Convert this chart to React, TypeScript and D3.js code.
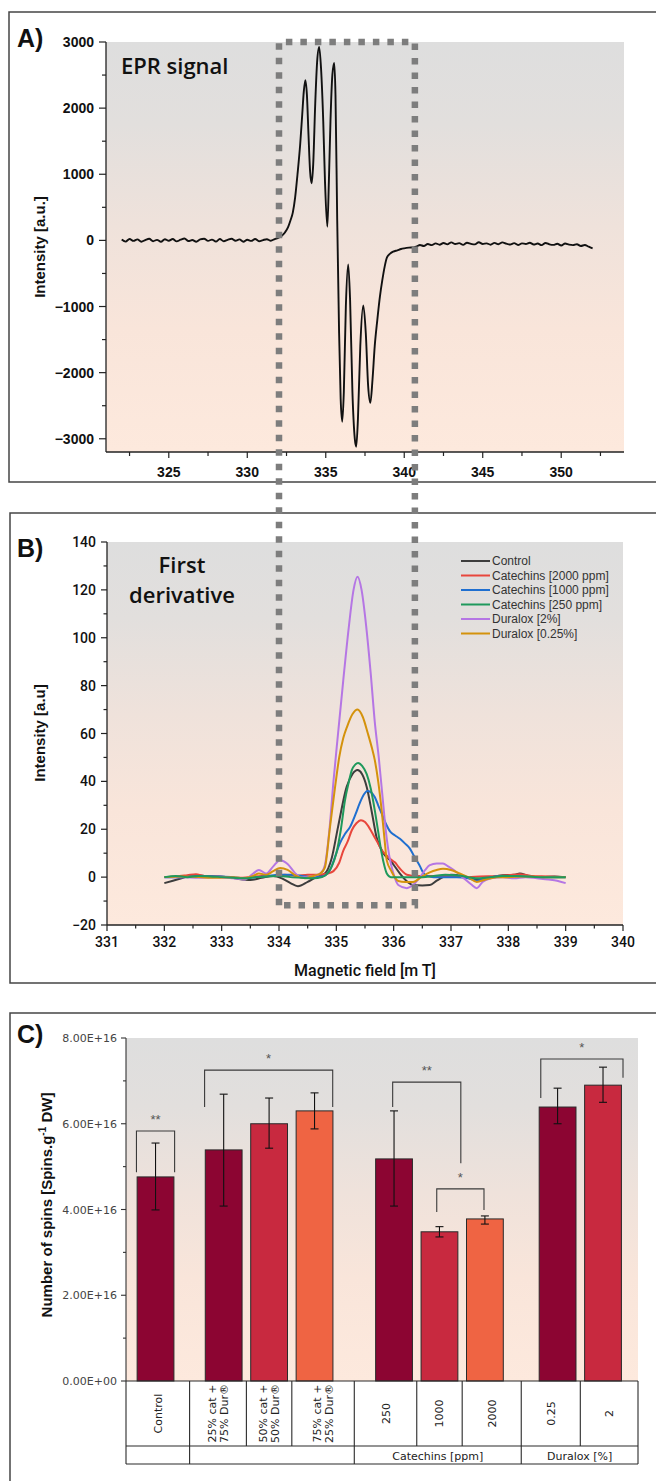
import React from 'react';
import * as d3 from 'd3';

const W = 656;
const H = 1481;

// ---------------- Panel A : EPR signal ----------------
const epsLeftBaseline: [number, number][] = [
  [322.0, 12], [322.25, -18], [322.5, 22], [322.75, -8], [323.0, 15], [323.25, -20], [323.5, 5], [323.75, 25],
  [324.0, -12], [324.25, 8], [324.5, -22], [324.75, 18], [325.0, -5], [325.25, 20], [325.5, -15], [325.75, 10],
  [326.0, 28], [326.25, -10], [326.5, 5], [326.75, -20], [327.0, 15], [327.25, 25], [327.5, -8], [327.75, 12],
  [328.0, -18], [328.25, 20], [328.5, -12], [328.75, 8], [329.0, 25], [329.25, -5], [329.5, 15], [329.75, -20],
  [330.0, 10], [330.25, -8], [330.5, 22], [330.75, -12], [331.0, 5], [331.25, 18], [331.5, -5], [331.75, 20],
  [332.0, 40],
];
const epsSignal: [number, number][] = [
  [332.2, 70], [332.4, 120], [332.6, 200], [332.75, 300], [332.9, 420], [333.05, 650], [333.2, 1000],
  [333.37, 1450], [333.5, 1900], [333.6, 2250], [333.7, 2424], [333.8, 2200], [333.9, 1600], [334.0, 1050],
  [334.1, 864], [334.2, 1150], [334.33, 2070], [334.45, 2700], [334.58, 2924], [334.7, 2600], [334.84, 1800],
  [334.95, 900], [335.1, 207], [335.2, 900], [335.3, 1800], [335.42, 2500], [335.54, 2682], [335.62, 2200],
  [335.73, 300], [335.85, -1400], [335.95, -2400], [336.05, -2742], [336.15, -2300], [336.28, -1000],
  [336.43, -364], [336.55, -900], [336.7, -2300], [336.85, -3000], [336.94, -3121], [337.05, -2700],
  [337.2, -1600], [337.39, -985], [337.55, -1400], [337.7, -2200], [337.84, -2455], [337.98, -2100],
  [338.12, -1600], [338.28, -1212], [338.45, -850], [338.6, -606], [338.75, -400], [338.9, -258],
  [339.1, -200], [339.3, -170], [339.56, -150], [339.8, -130], [340.0, -120], [340.3, -110], [340.6, -106],
];
const epsRightBaseline: [number, number][] = [
  [340.8, -90], [341.0, -70], [341.25, -85], [341.5, -55], [341.75, -72], [342.0, -45], [342.25, -65],
  [342.5, -40], [342.75, -60], [343.0, -30], [343.25, -55], [343.5, -42], [343.75, -68], [344.0, -35],
  [344.25, -52], [344.5, -60], [344.75, -28], [345.0, -55], [345.25, -45], [345.5, -65], [345.75, -38],
  [346.0, -58], [346.25, -30], [346.5, -50], [346.75, -62], [347.0, -42], [347.25, -70], [347.5, -45],
  [347.75, -55], [348.0, -35], [348.25, -62], [348.5, -48], [348.75, -72], [349.0, -40], [349.25, -60],
  [349.5, -68], [349.75, -50], [350.0, -78], [350.25, -48], [350.5, -65], [350.75, -72], [351.0, -58],
  [351.25, -85], [351.5, -70], [351.75, -95], [352.0, -120],
];
const aYTicks = [3000, 2000, 1000, 0, -1000, -2000, -3000];
const aXTicks = [325, 330, 335, 340, 345, 350];

// ---------------- Panel B : first derivative ----------------
const seriesNames = [
  'Control', 'Catechins [2000 ppm]', 'Catechins [1000 ppm]', 'Catechins [250 ppm]', 'Duralox [2%]', 'Duralox [0.25%]',
];
const seriesColors = ['#3d3d3d', '#e8463c', '#1f6fd0', '#1f995c', '#b576e4', '#d4920c'];

const controlCurve: [number, number][] = [
  [332.0, -2.5], [332.15, -1.5], [332.3, -0.5], [332.5, 0.8], [332.7, 0.5], [332.9, 0.3], [333.1, 0],
  [333.3, -0.8], [333.5, -1.2], [333.7, -0.3], [333.9, 0.5], [334.05, -0.5], [334.2, -2.5], [334.33, -3.8],
  [334.5, -2], [334.65, 0], [334.8, 1.5], [334.92, 8], [335.03, 21], [335.18, 37.7], [335.28, 43],
  [335.37, 44.7], [335.45, 43], [335.53, 37.7], [335.62, 27], [335.7, 16.8], [335.82, 10], [335.94, 7],
  [336.11, 1.5], [336.22, -1.5], [336.34, -3.3], [336.5, -3.5], [336.63, -3.3], [336.75, -1.5], [336.86, 0],
  [337.0, 1], [337.2, 0.5], [337.35, -0.5], [337.5, -1], [337.7, 0], [337.9, 0.8], [338.1, 1], [338.2, 1.5],
  [338.35, 0.5], [338.6, 0], [338.8, 0.3], [339.0, 0],
];
const cat2000Curve: [number, number][] = [
  [332.0, 0], [332.2, 0.3], [332.4, 0.8], [332.55, 1.2], [332.7, 0.5], [332.9, 0.3], [333.1, 0], [333.3, -0.3],
  [333.5, 0], [333.7, 0.5], [333.9, 0.5], [334.1, 1], [334.3, 0.5], [334.5, 1], [334.7, 1], [334.85, 1.5],
  [334.95, 2.5], [335.05, 6], [335.12, 11], [335.2, 15], [335.27, 19.6], [335.35, 22.5], [335.43, 23.8],
  [335.5, 23], [335.59, 20], [335.66, 17], [335.73, 14], [335.8, 11], [335.88, 9], [335.97, 7], [336.03, 6],
  [336.08, 4.4], [336.15, 2.5], [336.23, 1], [336.4, 0.5], [336.6, 0.5], [336.8, 0.5], [337.0, 0.5],
  [337.3, 0], [337.5, 0.3], [337.8, 0.5], [338.0, 0.8], [338.2, 1.2], [338.4, 0.5], [338.7, 0.3], [339.0, 0],
];
const cat1000Curve: [number, number][] = [
  [332.0, 0], [332.3, 0], [332.6, 0.5], [332.9, 0.3], [333.2, 0], [333.4, -0.5], [333.6, 0], [333.8, 0.5],
  [334.0, 1], [334.2, 1], [334.4, 0.5], [334.6, 0], [334.75, 0.3], [334.89, 3], [334.97, 8], [335.06, 14],
  [335.15, 18], [335.24, 21], [335.33, 26], [335.41, 31], [335.48, 34.5], [335.54, 36], [335.6, 35.5],
  [335.67, 33.5], [335.73, 30], [335.79, 26.6], [335.86, 22.5], [335.94, 19], [336.02, 17.5], [336.11, 16],
  [336.2, 14], [336.28, 12], [336.34, 9.5], [336.4, 7], [336.46, 4.5], [336.51, 2], [336.58, 0.5],
  [336.7, 0], [336.9, 0], [337.1, 0], [337.3, -0.5], [337.45, -1.5], [337.55, -1], [337.7, 0], [337.9, 0.5],
  [338.2, 0.5], [338.5, 0], [338.8, 0], [339.0, 0],
];
const cat250Curve: [number, number][] = [
  [332.0, 0], [332.2, 0.5], [332.4, 0], [332.6, 0.5], [332.8, 0.3], [333.0, 0], [333.2, -0.3], [333.4, -0.5],
  [333.6, 0], [333.8, 0.3], [334.0, 0.5], [334.2, 0], [334.4, -0.3], [334.6, -0.5], [334.75, 0], [334.86, 2],
  [334.93, 5], [335.0, 10], [335.08, 20], [335.15, 32], [335.22, 40], [335.27, 44.7], [335.33, 47],
  [335.38, 47.7], [335.45, 46.5], [335.53, 43], [335.6, 37], [335.67, 28], [335.73, 19], [335.79, 10],
  [335.84, 4.5], [335.88, 1.5], [335.95, 0], [336.1, 0], [336.3, 0], [336.5, 0], [336.7, 0.5], [336.9, 1],
  [337.1, 0.8], [337.3, 0], [337.5, -0.5], [337.7, 0], [337.9, 0.5], [338.1, 0.5], [338.3, 0.3], [338.6, 0],
  [339.0, 0],
];
const dur2Curve: [number, number][] = [
  [332.0, 0], [332.3, 0], [332.6, -0.3], [332.9, 0], [333.2, -0.5], [333.4, -1], [333.55, 1.5], [333.65, 3],
  [333.78, 1.5], [333.9, 4.5], [334.02, 7.1], [334.15, 5.5], [334.27, 2], [334.37, 0], [334.5, 0],
  [334.62, 0.5], [334.74, 2], [334.8, 5], [334.88, 20], [334.95, 40], [335.03, 60], [335.12, 82],
  [335.22, 105], [335.3, 120], [335.37, 125.5], [335.44, 120], [335.52, 105], [335.6, 85], [335.67, 65],
  [335.74, 50], [335.8, 35], [335.87, 18], [335.93, 8], [335.99, 2], [336.08, -3.3], [336.23, -4.6],
  [336.35, -3], [336.46, 0], [336.55, 3], [336.63, 5], [336.75, 5.7], [336.86, 5.7], [336.95, 4.5],
  [337.05, 3], [337.2, 0], [337.35, -3], [337.45, -4.6], [337.55, -2], [337.7, -0.5], [337.9, 0],
  [338.1, -0.5], [338.3, 0], [338.5, -0.5], [338.7, -1], [338.85, -1.5], [339.0, -2.5],
];
const dur025Curve: [number, number][] = [
  [332.0, 0], [332.3, 0.3], [332.6, 0], [332.9, -0.3], [333.2, 0], [333.4, -0.5], [333.55, 0.5], [333.65, 1.5],
  [333.78, 1], [333.9, 2.5], [334.02, 3.8], [334.15, 3], [334.3, 0.5], [334.45, -0.5], [334.6, 0.5],
  [334.72, 1.5], [334.8, 4], [334.89, 21], [334.98, 38], [335.05, 50], [335.12, 58], [335.19, 63],
  [335.28, 68], [335.37, 70], [335.46, 67], [335.55, 60], [335.62, 54], [335.67, 49], [335.73, 40],
  [335.79, 28], [335.84, 16], [335.88, 7], [335.96, 2.5], [336.08, -1.6], [336.2, -2], [336.34, -2],
  [336.48, 0], [336.63, 2], [336.75, 3], [336.86, 3.5], [337.0, 3], [337.15, 1.5], [337.3, 0], [337.45, -2],
  [337.6, -1], [337.8, 0], [338.0, 0], [338.3, 0.3], [338.6, 0], [339.0, 0],
];
const seriesCurves = [controlCurve, cat2000Curve, cat1000Curve, cat250Curve, dur2Curve, dur025Curve];
const drawOrder = [0, 1, 2, 4, 5, 3];
const bYTicks = [-20, 0, 20, 40, 60, 80, 100, 120, 140];
const bXTicks = [331, 332, 333, 334, 335, 336, 337, 338, 339, 340];

// highlighted window (B field units) and its top (A intensity units)
const boxFieldRange = [334.0, 336.37];
const boxTopA = 3000;
const boxBottomB = -11.7;

// ---------------- Panel C : number of spins ----------------
const barLabels: string[][] = [
  ['Control'], ['25% cat +', '75% Dur®'], ['50% cat +', '50% Dur®'], ['75% cat +', '25% Dur®'],
  ['250'], ['1000'], ['2000'], ['0.25'], ['2'],
];
const barValues = [4.76, 5.39, 6.0, 6.3, 5.18, 3.48, 3.78, 6.39, 6.9]; // x 1e16
const barErrLow = [3.99, 4.08, 5.43, 5.88, 4.08, 3.36, 3.66, 6.0, 6.5];
const barErrHigh = [5.55, 6.69, 6.6, 6.72, 6.3, 3.6, 3.85, 6.83, 7.32];
const barShade = [0, 0, 1, 2, 0, 1, 2, 0, 1];
const barSlots = [0, 1.5, 2.5, 3.5, 5.25, 6.25, 7.25, 8.85, 9.85];
const shadeColors = ['#8c0532', '#c8293f', '#ef6443'];
const groupLabels = ['', '', 'Catechins [ppm]', 'Duralox [%]'];
const groupFirstBar = [0, 1, 4, 7];
const groupLastBar = [0, 3, 6, 8];
const cYTicks = [0, 2, 4, 6, 8];
const cYTickLabels = ['0.00E+00', '2.00E+16', '4.00E+16', '6.00E+16', '8.00E+16'];
const brackets = [
  { x1: -0.42, x2: 0.42, top: 5.83, left: 4.87, right: 4.87, label: '**' },
  { x1: 1.08, x2: 3.9, top: 7.25, left: 6.39, right: 6.39, label: '*' },
  { x1: 5.22, x2: 6.72, top: 6.97, left: 6.39, right: 5.08, label: '**' },
  { x1: 6.19, x2: 7.23, top: 4.48, left: 3.94, right: 3.99, label: '*' },
  { x1: 8.48, x2: 10.29, top: 7.51, left: 6.6, right: 7.07, label: '*' },
];

// ---------------- scales ----------------
const xA = d3.scaleLinear().domain([321, 354]).range([106, 624]);
const yA = d3.scaleLinear().domain([-3200, 3000]).range([452, 42]);
const xB = d3.scaleLinear().domain([331, 340]).range([107, 623]);
const yB = d3.scaleLinear().domain([-20, 140]).range([925, 542]);
const xC = d3.scaleLinear().domain([-0.65, 10.62]).range([126, 638]);
const yC = d3.scaleLinear().domain([0, 8]).range([1381, 1038]);

const SANS = '"Liberation Sans", Arial, sans-serif';
const ROBO = 'Roboto, "Liberation Sans", sans-serif';
const DEJ = '"DejaVu Sans", sans-serif';
const OPEN = '"Open Sans", sans-serif';

function Gradient({ id }: { id: string }) {
  return (
    <linearGradient id={id} x1="0" y1="0" x2="0" y2="1">
      <stop offset="0" stopColor="#dedede" />
      <stop offset="0.2" stopColor="#e2dfdd" />
      <stop offset="0.45" stopColor="#efe2db" />
      <stop offset="0.7" stopColor="#f9e5da" />
      <stop offset="1" stopColor="#fde9dd" />
    </linearGradient>
  );
}

export default function App() {
  const lineA = d3.line<[number, number]>().x(d => xA(d[0])).y(d => yA(d[1])).curve(d3.curveMonotoneX);
  const lineB = d3.line<[number, number]>().x(d => xB(d[0])).y(d => yB(d[1])).curve(d3.curveMonotoneX);
  const aPoints = [...epsLeftBaseline, ...epsSignal, ...epsRightBaseline];

  const aYMinor = d3.range(-3000, 3001, 500);
  const aXMinor = d3.range(322.5, 354, 2.5);
  const bYMinor = d3.range(-20, 141, 10);
  const bXMinor = d3.range(331, 340.01, 0.5);
  const cYMinor = d3.range(0, 8.01, 1);

  const slotStep = xC(1) - xC(0);
  const barW = slotStep * 0.81;
  const bounds: number[] = [xC.domain()[0]];
  for (let i = 0; i < barSlots.length - 1; i++) bounds.push((barSlots[i] + barSlots[i + 1]) / 2);
  bounds.push(xC.domain()[1]);
  const tLeft = xC(bounds[0]);
  const tRight = xC(bounds[bounds.length - 1]);
  const row1Top = yC(0);
  const row1Bot = 1446;
  const row2Bot = 1464;

  const bx0 = xB(boxFieldRange[0]);
  const bx1 = xB(boxFieldRange[1]);
  const by0 = yA(boxTopA);
  const by1 = yB(boxBottomB);

  return (
    <svg width={W} height={H} style={{ display: 'block', position: 'absolute', left: 0, top: 0 }} xmlns="http://www.w3.org/2000/svg">
      <defs>
        <Gradient id="gA" />
        <Gradient id="gB" />
        <Gradient id="gC" />
      </defs>
      <rect x={0} y={0} width={W} height={H} fill="#ffffff" />

      {/* ===== Panel A ===== */}
      <rect x={9} y={12} width={660} height={470} fill="none" stroke="#454545" strokeWidth={1.5} />
      <rect x={xA(321)} y={yA(3000)} width={xA(354) - xA(321)} height={yA(-3200) - yA(3000)} fill="url(#gA)" />
      <text x={17} y={47} fontFamily={SANS} fontWeight="bold" fontSize={25} fill="#111">A)</text>
      <text x={121} y={74} fontFamily={OPEN} fontWeight={600} fontSize={22} fill="#111">EPR signal</text>
      <path d={lineA(aPoints) || ''} fill="none" stroke="#111" strokeWidth={1.9} strokeLinejoin="round" />
      <line x1={xA(321)} x2={xA(321)} y1={yA(3000)} y2={yA(-3200)} stroke="#222" strokeWidth={1.3} />
      <line x1={xA(321)} x2={xA(354)} y1={yA(-3200)} y2={yA(-3200)} stroke="#222" strokeWidth={1.3} />
      {aYMinor.map(v => (
        <line key={'aym' + v} x1={xA(321)} x2={xA(321) - (v % 1000 === 0 ? 7 : 4)} y1={yA(v)} y2={yA(v)} stroke="#222" strokeWidth={1.2} />
      ))}
      {aYTicks.map(v => (
        <text key={'ayt' + v} x={94} y={yA(v) + 5} textAnchor="end" fontFamily={SANS} fontWeight="bold" fontSize={14} fill="#111">
          {v < 0 ? '\u2212' + Math.abs(v) : v}
        </text>
      ))}
      {aXMinor.map(v => (
        <line key={'axm' + v} x1={xA(v)} x2={xA(v)} y1={yA(-3200)} y2={yA(-3200) + (v % 5 === 0 ? 6 : 4)} stroke="#222" strokeWidth={1.2} />
      ))}
      {aXTicks.map(v => (
        <text key={'axt' + v} x={xA(v)} y={477} textAnchor="middle" fontFamily={SANS} fontWeight="bold" fontSize={14} fill="#111">{v}</text>
      ))}
      <text transform="translate(45,247) rotate(-90)" textAnchor="middle" fontFamily={SANS} fontWeight="bold" fontSize={15} fill="#111">Intensity [a.u.]</text>

      {/* ===== Panel B ===== */}
      <rect x={10} y={513} width={660} height={470} fill="none" stroke="#454545" strokeWidth={1.5} />
      <rect x={xB(331)} y={yB(140)} width={xB(340) - xB(331)} height={yB(-20) - yB(140)} fill="url(#gB)" />
      <text x={17} y={557} fontFamily={SANS} fontWeight="bold" fontSize={25} fill="#111">B)</text>
      <text x={182} y={573} textAnchor="middle" fontFamily={OPEN} fontWeight={600} fontSize={22} fill="#111">First</text>
      <text x={182} y={603} textAnchor="middle" fontFamily={OPEN} fontWeight={600} fontSize={22} fill="#111">derivative</text>
      {drawOrder.map(i => (
        <path key={'bl' + i} d={lineB(seriesCurves[i]) || ''} fill="none" stroke={seriesColors[i]} strokeWidth={2} strokeLinejoin="round" />
      ))}
      {seriesNames.map((n, i) => (
        <g key={'lg' + i}>
          <line x1={461} x2={490} y1={561 + i * 14.5} y2={561 + i * 14.5} stroke={seriesColors[i]} strokeWidth={2} />
          <text x={492} y={565 + i * 14.5} fontFamily={SANS} fontSize={12} fill="#333">{n}</text>
        </g>
      ))}
      <line x1={xB(331)} x2={xB(331)} y1={yB(140)} y2={yB(-20)} stroke="#222" strokeWidth={1.3} />
      <line x1={xB(331)} x2={xB(340)} y1={yB(-20)} y2={yB(-20)} stroke="#222" strokeWidth={1.3} />
      {bYMinor.map(v => (
        <line key={'bym' + v} x1={xB(331)} x2={xB(331) - (v % 20 === 0 ? 6 : 3.5)} y1={yB(v)} y2={yB(v)} stroke="#222" strokeWidth={1.2} />
      ))}
      {bYTicks.map(v => (
        <text key={'byt' + v} x={96} y={yB(v) + 5} textAnchor="end" fontFamily={ROBO} fontWeight={500} fontSize={14} fill="#111">
          {v < 0 ? '\u2212' + Math.abs(v) : v}
        </text>
      ))}
      {bXMinor.map(v => (
        <line key={'bxm' + v} x1={xB(v)} x2={xB(v)} y1={yB(-20)} y2={yB(-20) + (Number.isInteger(v) ? 6 : 3.5)} stroke="#222" strokeWidth={1.2} />
      ))}
      {bXTicks.map(v => (
        <text key={'bxt' + v} x={xB(v)} y={947} textAnchor="middle" fontFamily={ROBO} fontWeight={500} fontSize={14} fill="#111">{v}</text>
      ))}
      <text x={365} y={976} textAnchor="middle" fontFamily={ROBO} fontWeight={500} fontSize={16} fill="#111">Magnetic field [m T]</text>
      <text transform="translate(45,733) rotate(-90)" textAnchor="middle" fontFamily={SANS} fontWeight="bold" fontSize={15} fill="#111">Intensity [a.u]</text>

      {/* ===== Panel C ===== */}
      <rect x={10} y={1013} width={660} height={490} fill="none" stroke="#454545" strokeWidth={1.5} />
      <rect x={xC.range()[0]} y={yC(8)} width={xC.range()[1] - xC.range()[0]} height={yC(0) - yC(8)} fill="url(#gC)" />
      <text x={17} y={1043} fontFamily={SANS} fontWeight="bold" fontSize={25} fill="#111">C)</text>
      {barValues.map((v, i) => (
        <rect key={'bar' + i} x={xC(barSlots[i]) - barW / 2} y={yC(v)} width={barW} height={yC(0) - yC(v)}
          fill={shadeColors[barShade[i]]} stroke="#2a2a2a" strokeWidth={1} />
      ))}
      {barValues.map((v, i) => {
        const cx = xC(barSlots[i]);
        return (
          <g key={'err' + i} stroke="#111" strokeWidth={1.1}>
            <line x1={cx} x2={cx} y1={yC(barErrLow[i])} y2={yC(barErrHigh[i])} />
            <line x1={cx - 4} x2={cx + 4} y1={yC(barErrLow[i])} y2={yC(barErrLow[i])} />
            <line x1={cx - 4} x2={cx + 4} y1={yC(barErrHigh[i])} y2={yC(barErrHigh[i])} />
          </g>
        );
      })}
      {brackets.map((b, i) => {
        const x1 = xC(b.x1);
        const x2 = xC(b.x2);
        return (
          <g key={'br' + i}>
            <path d={`M${x1},${yC(b.left)}V${yC(b.top)}H${x2}V${yC(b.right)}`} fill="none" stroke="#3a3a3a" strokeWidth={1.1} />
            <text x={(x1 + x2) / 2} y={yC(b.top) - 7} textAnchor="middle" fontFamily={SANS} fontSize={13} fill="#555">{b.label}</text>
          </g>
        );
      })}
      <line x1={xC.range()[0]} x2={xC.range()[0]} y1={yC(8)} y2={yC(0)} stroke="#333" strokeWidth={1.1} />
      {cYMinor.map(v => (
        <line key={'cym' + v} x1={xC.range()[0]} x2={xC.range()[0] - (v % 2 === 0 ? 5 : 3)} y1={yC(v)} y2={yC(v)} stroke="#333" strokeWidth={1.1} />
      ))}
      {cYTicks.map((v, i) => (
        <text key={'cyt' + v} x={117} y={yC(v) + 4} textAnchor="end" fontFamily={DEJ} fontSize={11} fill="#444">{cYTickLabels[i]}</text>
      ))}
      {/* table */}
      <g stroke="#2a2a2a" strokeWidth={1.1}>
        <line x1={tLeft} x2={tRight} y1={row1Top} y2={row1Top} />
        <line x1={tLeft} x2={tRight} y1={row1Bot} y2={row1Bot} />
        <line x1={tLeft} x2={tRight} y1={row2Bot} y2={row2Bot} />
        {bounds.map((b, i) => (
          <line key={'tb' + i} x1={xC(b)} x2={xC(b)} y1={row1Top} y2={row1Bot} />
        ))}
        {groupFirstBar.map((f, g) => (
          <line key={'gb' + g} x1={xC(bounds[f])} x2={xC(bounds[f])} y1={row1Bot} y2={row2Bot} />
        ))}
        <line x1={tRight} x2={tRight} y1={row1Bot} y2={row2Bot} />
      </g>
      {barLabels.map((lines, i) => {
        const cx = xC((bounds[i] + bounds[i + 1]) / 2);
        const cy = (row1Top + row1Bot) / 2;
        return (
          <text key={'tl' + i} transform={`translate(${cx},${cy}) rotate(-90)`} textAnchor="middle" fontFamily={DEJ} fontSize={11} fill="#222">
            {lines.map((l, k) => (
              <tspan key={k} x={0} y={(k - (lines.length - 1) / 2) * 11.5 + 4}>{l}</tspan>
            ))}
          </text>
        );
      })}
      {groupLabels.map((g, gi) => (
        <text key={'gl' + gi} x={(xC(bounds[groupFirstBar[gi]]) + xC(bounds[groupLastBar[gi] + 1])) / 2} y={row2Bot - 4.5}
          textAnchor="middle" fontFamily={DEJ} fontSize={11} fill="#222">{g}</text>
      ))}
      <text transform="translate(52,1205) rotate(-90)" textAnchor="middle" fontFamily={SANS} fontWeight="bold" fontSize={15} fill="#111">
        Number of spins [Spins.g<tspan dy={-6} fontSize={10}>-1</tspan><tspan dy={6}> DW]</tspan>
      </text>

      {/* ===== highlighted window spanning A and B ===== */}
      <path d={`M${bx0},${by1}V${by0}H${bx1}V${by1}H${bx0}`} fill="none" stroke="#7d7d7d" strokeWidth={6.5} strokeDasharray="6.5 8" />
    </svg>
  );
}
